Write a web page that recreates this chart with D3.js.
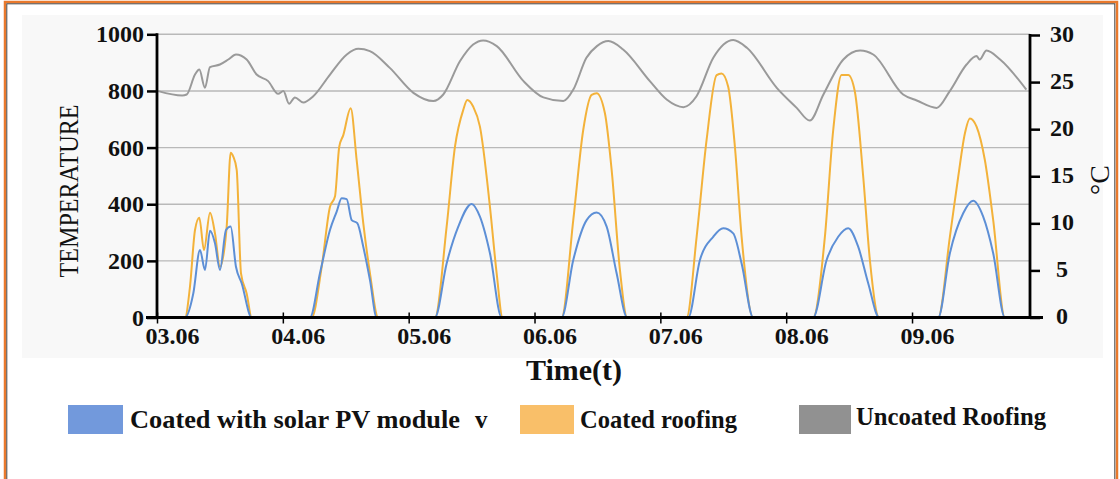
<!DOCTYPE html>
<html>
<head>
<meta charset="utf-8">
<script src="https://cdn.jsdelivr.net/npm/d3@7"></script>
<style>
  body { margin: 0; background: #fff; }
  text { font-family: "Liberation Serif", "Times New Roman", serif; }
</style>
</head>
<body>
<script>
// day ticks (hours since 03.06 00:00) and labels
const dayTicks = [0, 24, 48, 72, 96, 120, 144];
const dayLabels = ["03.06", "04.06", "05.06", "06.06", "07.06", "08.06", "09.06"];
const leftTicks = [0, 200, 400, 600, 800, 1000];
const rightTicks = [0, 5, 10, 15, 20, 25, 30];
const seriesNames = ["Coated with solar PV module", "Coated roofing", "Uncoated Roofing"];

// [hour, value]
const pvModule = [
  [0, 0], [5.34, 0], [6.92, 85], [8.2, 238], [9.15, 168], [10.11, 306], [11.06, 262], [12.01, 168],
  [13.16, 309], [14.05, 321], [15.06, 179], [16.15, 121], [18.06, 0],
  [29.18, 0], [31.08, 156], [32.99, 309], [34.27, 374], [35.22, 421], [36.18, 418], [37.13, 344],
  [38.2, 333], [39.34, 250], [40.62, 132], [41.9, 0],
  [53.01, 0], [55.24, 191], [57.46, 321], [60.01, 401], [61.59, 356], [63.5, 227], [65.73, 0],
  [77.17, 0], [79.39, 203], [81.94, 344], [83.85, 371], [85.76, 321], [87.66, 156], [89.68, 0],
  [101.32, 0], [103.55, 203], [106.08, 285], [107.99, 315], [109.9, 297], [111.5, 191], [113.71, 0],
  [125.15, 0], [127.71, 203], [129.92, 285], [131.83, 315], [133.73, 250], [135.64, 121], [137.74, 0],
  [148.99, 0], [151.22, 227], [153.76, 368], [155.66, 412], [157.57, 356], [159.48, 227], [161.71, 0],
  [166.5, 0]
];

const coatedRoofing = [
  [0, 0], [5.34, 0], [6.29, 109], [7.25, 309], [8.07, 352], [8.96, 238], [10.11, 370], [11.06, 297],
  [12.01, 179], [13.29, 321], [14.05, 582], [14.55, 568], [15.2, 521], [16.02, 156], [17.1, 85], [18.06, 0],
  [29.5, 0], [31.41, 179], [32.99, 391], [33.94, 427], [34.76, 603], [35.53, 644], [36.94, 739],
  [38.08, 556], [39.34, 333], [40.62, 156], [42.2, 0],
  [53.01, 0], [55.24, 321], [56.83, 603], [58.41, 733], [59.17, 768], [60.32, 744], [61.59, 674],
  [63.5, 391], [64.78, 156], [65.92, 0],
  [77.17, 0], [79.39, 344], [81.29, 662], [82.89, 786], [83.85, 792], [85.43, 721], [86.71, 521],
  [88.29, 168], [89.68, 0],
  [101.01, 0], [102.92, 285], [104.82, 627], [106.73, 856], [107.68, 862], [108.94, 815], [110.22, 603],
  [111.5, 285], [113.71, 0],
  [125.15, 0], [127.38, 285], [128.97, 662], [130.57, 856], [131.83, 856], [133.1, 797], [134.69, 497],
  [135.96, 203], [137.74, 0],
  [148.99, 0], [151.22, 285], [152.81, 497], [154.08, 650], [155.04, 703], [156.31, 674], [157.89, 556],
  [159.48, 344], [161.71, 0],
  [166.5, 0]
];

// uncoated roofing, in °C (right axis)
const uncoatedRoofing = [
  [0.25, 24.04], [4.8, 23.57], [5.66, 23.68], [7.25, 25.8], [8.07, 26.33], [9.15, 24.39], [10.1, 26.59],
  [12.0, 26.87], [13.6, 27.4], [15.06, 27.93], [17.1, 27.4], [19.0, 25.8], [21.2, 25.1], [23.1, 23.75],
  [24.1, 24.04], [25.2, 22.7], [26.3, 23.37], [27.9, 22.84], [29.8, 23.5], [33.0, 25.8], [36.2, 27.93],
  [38.4, 28.53], [40.6, 28.29], [44.4, 26.51], [48.9, 23.86], [52.7, 22.98], [54.6, 23.68], [57.8, 27.23],
  [60.3, 28.99], [62.2, 29.42], [64.8, 28.82], [69.9, 25.1], [73.7, 23.37], [77.5, 22.98], [79.4, 24.2],
  [81.9, 27.58], [83.9, 28.82], [86.1, 29.35], [88.9, 28.46], [94.0, 25.1], [97.2, 23.15], [100.4, 22.34],
  [102.9, 23.5], [106.1, 27.58], [109.9, 29.46], [112.5, 28.64], [118.2, 24.39], [122.0, 22.26],
  [124.5, 20.91], [127.1, 23.68], [130.9, 27.4], [134.1, 28.35], [136.6, 27.93], [142.3, 23.68],
  [144.9, 23.04], [148.7, 22.26], [151.2, 24.04], [154.4, 26.87], [156.3, 27.76], [156.9, 27.4],
  [158.2, 28.35], [160.8, 27.4], [165.8, 24.2]
];

const width = 1120;
const height = 479;
const serif = "'Liberation Serif', 'Times New Roman', serif";
const colors = { pv: "#5d8fd6", roof: "#f3b23a", unc: "#9a9a9a" };
const swatch = ["#7299dc", "#f9bf69", "#919191"];

const svg = d3.select("body").append("svg")
  .attr("width", width)
  .attr("height", height);

// frame + light panel
svg.append("rect").attr("x", 5).attr("y", 2).attr("width", 1112).attr("height", 520)
  .attr("fill", "none").attr("stroke", "#e9792c").attr("stroke-width", 2.5);
svg.append("rect").attr("x", 6.8).attr("y", 3.8).attr("width", 1108).attr("height", 520)
  .attr("fill", "none").attr("stroke", "#444").attr("stroke-width", 1);
svg.append("rect").attr("x", 22).attr("y", 15).attr("width", 1081).attr("height", 343)
  .attr("fill", "#f8f8f8");

// scales
const x = d3.scaleLinear().domain([0, 166.5]).range([157, 1030]);
const yLeft = d3.scaleLinear().domain([0, 1000]).range([317.5, 34.3]);
const yRight = d3.scaleLinear().domain([0, 30]).range([317.5, 35]);

// grid
svg.append("g").selectAll("line")
  .data(leftTicks.filter((d) => d > 0))
  .join("line")
  .attr("x1", x(0)).attr("x2", x(166.5))
  .attr("y1", (d) => yLeft(d)).attr("y2", (d) => yLeft(d))
  .attr("stroke", "#b9b9b9").attr("stroke-width", 1.4);

// lines
const lineL = d3.line().x((d) => x(d[0])).y((d) => yLeft(d[1])).curve(d3.curveMonotoneX);
const lineR = d3.line().x((d) => x(d[0])).y((d) => yRight(d[1])).curve(d3.curveMonotoneX);

svg.append("path").datum(uncoatedRoofing).attr("d", lineR)
  .attr("fill", "none").attr("stroke", colors.unc).attr("stroke-width", 2)
  .attr("stroke-linejoin", "round");
svg.append("path").datum(coatedRoofing).attr("d", lineL)
  .attr("fill", "none").attr("stroke", colors.roof).attr("stroke-width", 2);
svg.append("path").datum(pvModule).attr("d", lineL)
  .attr("fill", "none").attr("stroke", colors.pv).attr("stroke-width", 2);

// axes
const axisFont = (g) => {
  g.attr("font-family", serif).attr("font-size", 24).attr("font-weight", "bold");
  g.selectAll("text").attr("fill", "#111");
};

const gLeft = svg.append("g").attr("transform", `translate(${x(0)},0)`)
  .call(d3.axisLeft(yLeft).tickValues(leftTicks).tickFormat(d3.format("d")).tickSize(10).tickPadding(3));
gLeft.select(".domain").remove();
gLeft.selectAll(".tick line").attr("stroke", "#000").attr("stroke-width", 2.5);
axisFont(gLeft);

const gRight = svg.append("g").attr("transform", `translate(${x(166.5)},0)`)
  .call(d3.axisRight(yRight).tickValues(rightTicks).tickSize(10));
gRight.select(".domain").remove();
gRight.selectAll(".tick line").attr("stroke", "#000").attr("stroke-width", 2.5);
axisFont(gRight);
gRight.selectAll(".tick text").attr("text-anchor", "middle").attr("x", 32).attr("dy", "0.25em");

const gBottom = svg.append("g").attr("transform", `translate(0,${yLeft(0)})`)
  .call(d3.axisBottom(x).tickValues(dayTicks).tickFormat((d, i) => dayLabels[i]).tickSize(6));
gBottom.select(".domain").remove();
gBottom.selectAll(".tick line").attr("y1", -5).attr("y2", 6)
  .attr("stroke", "#000").attr("stroke-width", 1.5);
axisFont(gBottom);
gBottom.selectAll(".tick text").attr("y", 26).attr("dy", 0).attr("dx", 15);

// axis lines
svg.append("line").attr("x1", 146).attr("x2", 1043).attr("y1", yLeft(0)).attr("y2", yLeft(0))
  .attr("stroke", "#000").attr("stroke-width", 2.8);
svg.append("line").attr("x1", x(0)).attr("x2", x(0)).attr("y1", yLeft(1000) - 1).attr("y2", yLeft(0))
  .attr("stroke", "#000").attr("stroke-width", 2.8);
svg.append("line").attr("x1", x(166.5)).attr("x2", x(166.5)).attr("y1", yRight(30) - 1).attr("y2", yLeft(0))
  .attr("stroke", "#000").attr("stroke-width", 2.8);

// axis titles
svg.append("text")
  .attr("transform", "translate(78,191) rotate(-90)")
  .attr("text-anchor", "middle")
  .attr("textLength", 173).attr("lengthAdjust", "spacingAndGlyphs")
  .attr("font-family", serif).attr("font-size", 28).attr("fill", "#111")
  .text("TEMPERATURE");

svg.append("text")
  .attr("transform", "translate(1109,180) rotate(-90)")
  .attr("text-anchor", "middle")
  .attr("font-family", serif).attr("font-size", 28).attr("fill", "#111")
  .text("°C");

svg.append("text")
  .attr("x", 574).attr("y", 380)
  .attr("text-anchor", "middle")
  .attr("font-family", serif).attr("font-size", 30).attr("font-weight", "bold").attr("fill", "#111")
  .text("Time(t)");

// legend
const legendX = [68, 520, 799];
const legendW = [55, 54, 52];
const legendTx = [130, 580, 856];
const legendLen = [330, 157, 190];
const legendBase = [428, 428, 425];
const leg = svg.append("g")
  .attr("font-family", serif).attr("font-size", 25).attr("font-weight", "bold")
  .selectAll("g").data(seriesNames).join("g");
leg.append("rect")
  .attr("x", (d, i) => legendX[i]).attr("y", 405)
  .attr("width", (d, i) => legendW[i]).attr("height", 29)
  .attr("fill", (d, i) => swatch[i]);
leg.append("text")
  .attr("x", (d, i) => legendTx[i]).attr("y", (d, i) => legendBase[i])
  .attr("textLength", (d, i) => legendLen[i]).attr("lengthAdjust", "spacingAndGlyphs")
  .attr("fill", "#111")
  .text((d) => d);
svg.append("text").attr("x", 475).attr("y", 428)
  .attr("font-family", serif).attr("font-size", 25).attr("font-weight", "bold").attr("fill", "#111")
  .text("v");
</script>
</body>
</html>
